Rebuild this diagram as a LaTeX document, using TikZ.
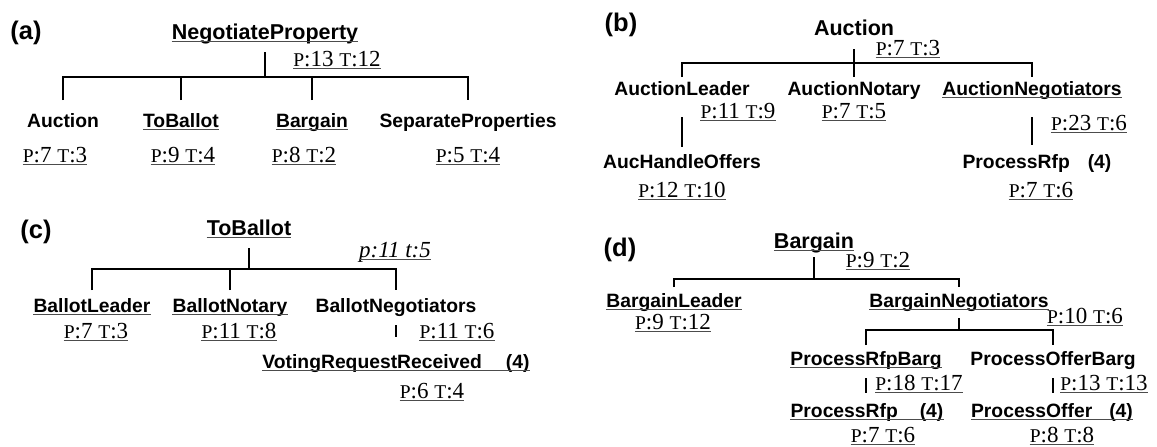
\documentclass[tikz,border=0pt]{standalone}
\usepackage{fontspec}
\setmainfont{Liberation Serif}
\setsansfont{Liberation Sans}
\newcommand{\smc}[1]{{\fontsize{19.5}{20}\selectfont #1}}

\begin{document}
\begin{tikzpicture}[x=1pt,y=1pt]
\tikzset{
  panel/.style={inner sep=0pt, anchor=base, font=\sffamily\bfseries\fontsize{25.5}{28}\selectfont},
  root/.style={inner sep=0pt, anchor=base, font=\sffamily\bfseries\fontsize{21.5}{24}\selectfont},
  kid/.style={inner sep=0pt, anchor=base, font=\sffamily\bfseries\fontsize{19.3}{22}\selectfont},
  val/.style={inner sep=0pt, anchor=base, font=\rmfamily\fontsize{23}{26}\selectfont},
  tree/.style={draw=black, line width=2pt},
  uline/.style={draw=black!70, line width=1.6pt},
  ul/.style={append after command={([yshift=-2.5pt]\tikzlastnode.base west) edge[uline] ([yshift=-2.5pt]\tikzlastnode.base east)}}
}
\useasboundingbox (0,0) rectangle (1157,-447);

% (a)
\node[panel] (la) at (26,-39) {(a)};
\node[root,ul] (np) at (265,-39) {NegotiateProperty};
\node[val,ul] (npv) at (337,-66) {\smc{P}:13 \smc{T}:12};
\node[kid] (auc) at (63,-127) {Auction};
\node[kid,ul] (tob) at (181,-127) {ToBallot};
\node[kid,ul] (brg) at (312,-127) {Bargain};
\node[kid] (sep) at (468,-127) {SeparateProperties};
\node[val,ul] (aucv) at (55,-162) {\smc{P}:7 \smc{T}:3};
\node[val,ul] (tobv) at (183,-162) {\smc{P}:9 \smc{T}:4};
\node[val,ul] (brgv) at (304,-162) {\smc{P}:8 \smc{T}:2};
\node[val,ul] (sepv) at (468,-162) {\smc{P}:5 \smc{T}:4};
\coordinate (ja) at (265,-77);
\draw[tree] ([yshift=-13pt]np.base) -- (ja);
\draw[tree] ([yshift=27pt]auc.base) |- (ja) -| ([yshift=27pt]sep.base);
\draw[tree] ([yshift=27pt]tob.base) -- (tob |- ja);
\draw[tree] ([yshift=27pt]brg.base) -- (brg |- ja);

% (b)
\node[panel] (lb) at (621,-31) {(b)};
\node[root] (ba) at (854,-35) {Auction};
\node[val,ul] (bav) at (908,-55) {\smc{P}:7 \smc{T}:3};
\node[kid] (al) at (682,-95) {AuctionLeader};
\node[kid] (an) at (854,-95) {AuctionNotary};
\node[kid,ul] (ang) at (1032,-95) {AuctionNegotiators};
\node[val,ul] (alv) at (738,-118) {\smc{P}:11 \smc{T}:9};
\node[val,ul] (anv) at (854,-118) {\smc{P}:7 \smc{T}:5};
\node[val,ul] (angv) at (1089,-130) {\smc{P}:23 \smc{T}:6};
\node[kid] (ahf) at (682,-168) {AucHandleOffers};
\node[kid] (apr) at (1037,-168) {ProcessRfp\hspace{18pt}(4)};
\node[val,ul] (ahfv) at (682,-197) {\smc{P}:12 \smc{T}:10};
\node[val,ul] (aprv) at (1041,-197) {\smc{P}:7 \smc{T}:6};
\coordinate (jb) at (854,-63);
\draw[tree] ([yshift=-14pt]ba.base) -- ([yshift=18pt]an.base);
\draw[tree] ([yshift=18pt]al.base) |- (jb) -| ([yshift=18pt]ang.base);
\draw[tree] ([yshift=-22pt]al.base) -- ([yshift=21pt]ahf.base);
\draw[tree] ([yshift=-22pt]ang.base) -- ([yshift=23pt]ang.base |- apr.base);

% (c)
\node[panel] (lc) at (36,-238) {(c)};
\node[root,ul] (tb) at (249,-235) {ToBallot};
\node[val,ul] (tbv) at (395,-257) {\textit{p:11 t:5}};
\node[kid,ul] (bl) at (92,-312) {BallotLeader};
\node[kid,ul] (bno) at (230,-312) {BallotNotary};
\node[kid] (bng) at (396,-312) {BallotNegotiators};
\node[val,ul] (blv) at (96,-338) {\smc{P}:7 \smc{T}:3};
\node[val,ul] (bnov) at (239,-338) {\smc{P}:11 \smc{T}:8};
\node[val,ul] (bngv) at (457,-338) {\smc{P}:11 \smc{T}:6};
\node[kid,ul] (vrr) at (396,-368) {VotingRequestReceived\hspace{24pt}(4)};
\node[val,ul] (vrrv) at (432,-398) {\smc{P}:6 \smc{T}:4};
\coordinate (jc) at (249,-269);
\draw[tree] ([yshift=-13pt]tb.base) -- (jc);
\draw[tree] ([yshift=22pt]bl.base) |- (jc) -| ([yshift=22pt]bng.base);
\draw[tree] ([yshift=22pt]bno.base) -- (bno |- jc);
\draw[tree] ([yshift=-13pt]bng.base) -- ([yshift=31pt]vrr.base);

% (d)
\node[panel] (ld) at (620,-256) {(d)};
\node[root,ul] (bg) at (814,-248) {Bargain};
\node[val,ul] (bgv) at (878,-267) {\smc{P}:9 \smc{T}:2};
\node[kid,ul] (bgl) at (674,-307) {BargainLeader};
\node[kid,ul] (bgn) at (959,-307) {BargainNegotiators};
\node[val,ul] (bglv) at (673,-329) {\smc{P}:9 \smc{T}:12};
\node[val,ul] (bgnv) at (1085,-323) {\smc{P}:10 \smc{T}:6};
\node[kid,ul] (prb) at (866,-365) {ProcessRfpBarg};
\node[kid] (pob) at (1053,-365) {ProcessOfferBarg};
\node[val,ul] (prbv) at (919,-390) {\smc{P}:18 \smc{T}:17};
\node[val,ul] (pobv) at (1104,-390) {\smc{P}:13 \smc{T}:13};
\node[kid,ul] (prf) at (867,-417) {ProcessRfp\hspace{22pt}(4)};
\node[kid,ul] (pof) at (1052,-417) {ProcessOffer\hspace{17pt}(4)};
\node[val,ul] (prfv) at (883,-442) {\smc{P}:7 \smc{T}:6};
\node[val,ul] (pofv) at (1062,-442) {\smc{P}:8 \smc{T}:8};
\coordinate (jd) at (814,-279);
\coordinate (je) at (959,-330);
\draw[tree] ([yshift=-9pt]bg.base) -- (jd);
\draw[tree] ([yshift=20pt]bgl.base) |- (jd) -| ([yshift=20pt]bgn.base);
\draw[tree] ([yshift=-11pt]bgn.base) -- (je);
\draw[tree] ([yshift=20pt]prb.base) |- (je) -| ([yshift=20pt]pob.base);
\draw[tree] ([yshift=-13pt]prb.base) -- ([yshift=24pt]prb.base |- prf.base);
\draw[tree] ([yshift=-13pt]pob.base) -- ([yshift=24pt]pob.base |- pof.base);
\end{tikzpicture}
\end{document}
